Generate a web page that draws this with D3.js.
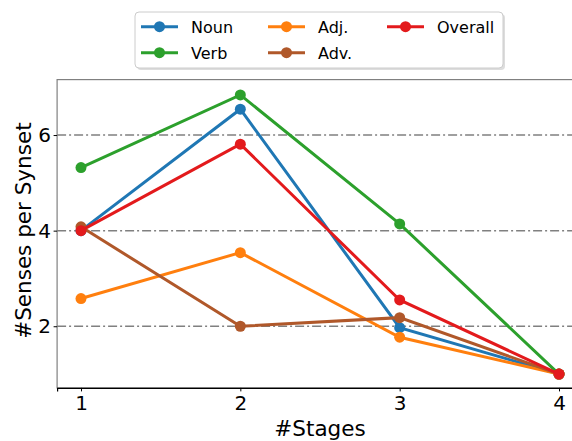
<!DOCTYPE html>
<html>
<head>
<meta charset="utf-8">
<script src="https://cdn.jsdelivr.net/npm/d3@7"></script>
<style>
  body { margin: 0; background: #fff; }
  svg { font-family: "DejaVu Sans", sans-serif; }
</style>
</head>
<body>
<svg id="svg" width="572" height="441"></svg>
<script>
// data
var stages = [1, 2, 3, 4];
var yTicks = [2, 4, 6];
var seriesNames = ["Noun", "Verb", "Adj.", "Adv.", "Overall"];
var seriesColors = ["#1f77b4", "#2ca02c", "#ff7f0e", "#b0582a", "#e31a1c"];
var noun = [4.0, 6.54, 1.97, 1.0];
var verb = [5.32, 6.84, 4.14, 1.0];
var adj = [2.58, 3.54, 1.77, 1.0];
var adv = [4.08, 2.0, 2.18, 1.0];
var overall = [4.0, 5.81, 2.55, 1.0];
var seriesValues = [noun, verb, adj, adv, overall];

var svg = d3.select("#svg");

var x = d3.scaleLinear().domain([0.85, 4.15]).range([57.1, 582.9]);
var y = d3.scaleLinear().domain([0.71, 7.16]).range([387.9, 79.6]);

var plotL = x.range()[0], plotR = x.range()[1];
var plotT = y.range()[1], plotB = y.range()[0];

// grid lines, dash-dot
svg.append("g").selectAll("line")
  .data(yTicks)
  .enter().append("line")
  .attr("x1", plotL).attr("x2", plotR)
  .attr("y1", function(d){ return y(d); })
  .attr("y2", function(d){ return y(d); })
  .attr("stroke", "#808080")
  .attr("stroke-width", 1.5)
  .attr("stroke-dasharray", "9,3,2,3");

// spines
svg.append("rect")
  .attr("x", plotL).attr("y", plotT)
  .attr("width", plotR - plotL).attr("height", plotB - plotT)
  .attr("fill", "none")
  .attr("stroke", "#808080")
  .attr("stroke-width", 1.2);

// lines and markers
var line = d3.line()
  .x(function(d, i){ return x(stages[i]); })
  .y(function(d){ return y(d); });

seriesValues.forEach(function(vals, k){
  var g = svg.append("g");
  g.append("path")
    .attr("d", line(vals))
    .attr("fill", "none")
    .attr("stroke", seriesColors[k])
    .attr("stroke-width", 3);
  g.selectAll("circle")
    .data(vals)
    .enter().append("circle")
    .attr("cx", function(d, i){ return x(stages[i]); })
    .attr("cy", function(d){ return y(d); })
    .attr("r", 5.5)
    .attr("fill", seriesColors[k]);
});

// axes
var xAxis = svg.append("g")
  .attr("transform", "translate(0," + plotB + ")")
  .call(d3.axisBottom(x).tickValues(stages).tickFormat(d3.format("d")).tickSizeOuter(0).tickSize(3.5).tickPadding(4));
xAxis.select(".domain").attr("stroke", "#000").attr("stroke-width", 1.2);
xAxis.selectAll("text").attr("font-size", 20).attr("fill", "#000").attr("font-family", "DejaVu Sans");

var yAxis = svg.append("g")
  .attr("transform", "translate(" + plotL + ",0)")
  .call(d3.axisLeft(y).tickValues(yTicks).tickFormat(d3.format("d")).tickSizeOuter(0).tickSize(3.5).tickPadding(2.5));
yAxis.select(".domain").remove();
yAxis.selectAll("text").attr("font-size", 20).attr("fill", "#000").attr("font-family", "DejaVu Sans");

// axis labels
svg.append("text")
  .attr("x", (x(1) + x(4)) / 2).attr("y", 436)
  .attr("text-anchor", "middle")
  .attr("font-size", 21.5)
  .text("#Stages");

svg.append("text")
  .attr("transform", "translate(31," + y(4) + ") rotate(-90)")
  .attr("text-anchor", "middle")
  .attr("font-size", 21.5)
  .text("#Senses per Synset");

// legend
var leg = svg.append("g");
leg.append("rect")
  .attr("x", 137).attr("y", 14)
  .attr("width", 368).attr("height", 56)
  .attr("rx", 4)
  .attr("fill", "#ddd");
leg.append("rect")
  .attr("x", 135).attr("y", 12)
  .attr("width", 368).attr("height", 56)
  .attr("rx", 4)
  .attr("fill", "#fff")
  .attr("stroke", "#ccc")
  .attr("stroke-width", 1);

var colX = [141, 268, 387];
var rowY = [26.7, 52.7];
seriesNames.forEach(function(name, k){
  var cx = colX[Math.floor(k / 2)], cy = rowY[k % 2];
  leg.append("line")
    .attr("x1", cx).attr("x2", cx + 37)
    .attr("y1", cy).attr("y2", cy)
    .attr("stroke", seriesColors[k]).attr("stroke-width", 3);
  leg.append("circle")
    .attr("cx", cx + 18.5).attr("cy", cy).attr("r", 5.5)
    .attr("fill", seriesColors[k]);
  leg.append("text")
    .attr("x", cx + 50).attr("y", cy + 6)
    .attr("font-size", 16)
    .text(name);
});
</script>
</body>
</html>
